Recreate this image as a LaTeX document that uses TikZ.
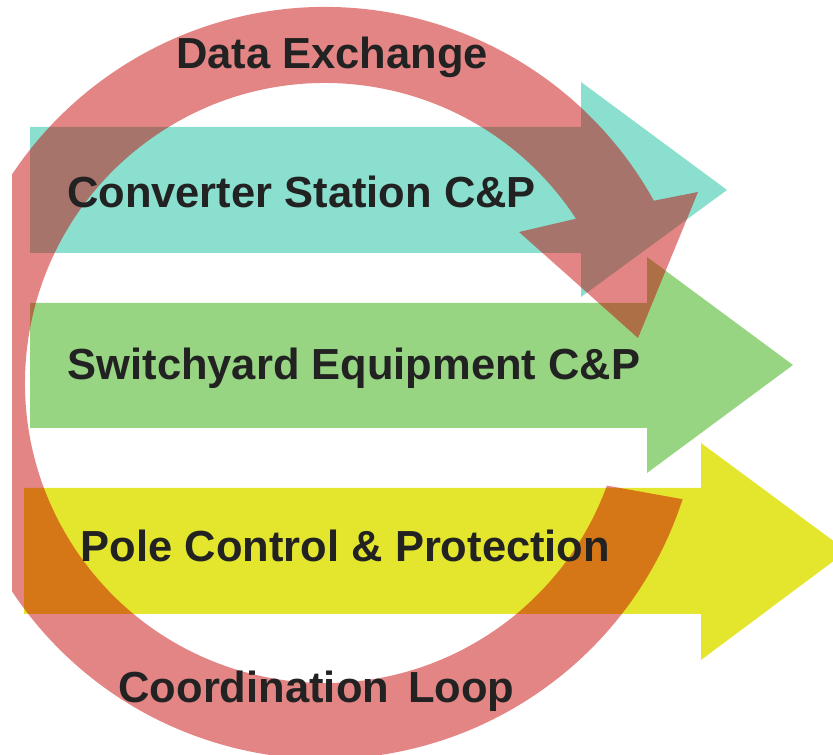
\documentclass[tikz,border=0pt]{standalone}
\usepackage{fontspec}
\setmainfont{Liberation Sans}
\usepackage{tikz}
\usetikzlibrary{calc,positioning}
\definecolor{convteal}{HTML}{8ADFCF}
\definecolor{swgreen}{HTML}{97D583}
\definecolor{poleyellow}{HTML}{E4E62D}
\definecolor{loopred}{RGB}{199,0,0}
\definecolor{labelgray}{HTML}{222222}

\begin{document}
\begin{tikzpicture}[
		x=1pt,
		y=1pt,
		line join=miter,
		lbl/.style={font=\fontsize{43.5}{48}\selectfont\bfseries, text=labelgray, anchor=base, inner sep=0pt},
		loopband/.style={fill=loopred, fill opacity=0.48}
		]
		
		\clip (0,0) rectangle (833,755);
		
		%------------------------------------------------------------------
		% Coordinates
		%------------------------------------------------------------------
		\coordinate (Ctr)      at (325,372);
		
		\coordinate (RingBarbR) at (698,563);
		\coordinate (RingTip)   at (638,417);
		\coordinate (RingBarbL) at (519,523);
		
		%------------------------------------------------------------------
		% Block arrows
		%------------------------------------------------------------------
		% Converter station
		\fill[convteal] (30,628) -- (581,628) -- (581,673) -- (727,565)
		-- (581,458) -- (581,502) -- (30,502) -- cycle;
		
		% Switchyard equipment
		\fill[swgreen] (30,452) -- (647,452) -- (647,498) -- (793,390)
		-- (647,282) -- (647,327) -- (30,327) -- cycle;
		
		% Pole control
		\fill[poleyellow] (24,267) -- (701,267) -- (701,312) -- (847,204)
		-- (701,95) -- (701,141) -- (24,141) -- cycle;
		
		%------------------------------------------------------------------
		% Coordination loop (circular arrow)
		%------------------------------------------------------------------
		\begin{scope}
			\clip (12,0) rectangle (833,755);
			\fill[loopband]
			([shift={(-18:376)}]Ctr) arc[start angle=-18, end angle=-331, radius=376]
			-- (RingBarbR) -- (RingTip) -- (RingBarbL)
			-- ([shift={(-326.8:300)}]Ctr) arc[start angle=-326.8, end angle=-20, radius=300]
			-- cycle;
		\end{scope}
		
		%------------------------------------------------------------------
		% Labels
		%------------------------------------------------------------------
		\node[lbl] (DataLbl) at (332,686) {Data Exchange};
		\node[lbl] (ConvLbl) at (301.5,547) {Converter Station C\&P};
		\node[lbl] (SwLbl)   at (354,375) {Switchyard Equipment C\&P};
		\node[lbl] (PoleLbl) at (345.5,193) {Pole Control \& Protection};
		\node[lbl] (LoopLbl) at (316.5,52) {Coordination\ \kern7pt Loop};
		
	\end{tikzpicture}
\end{document}
